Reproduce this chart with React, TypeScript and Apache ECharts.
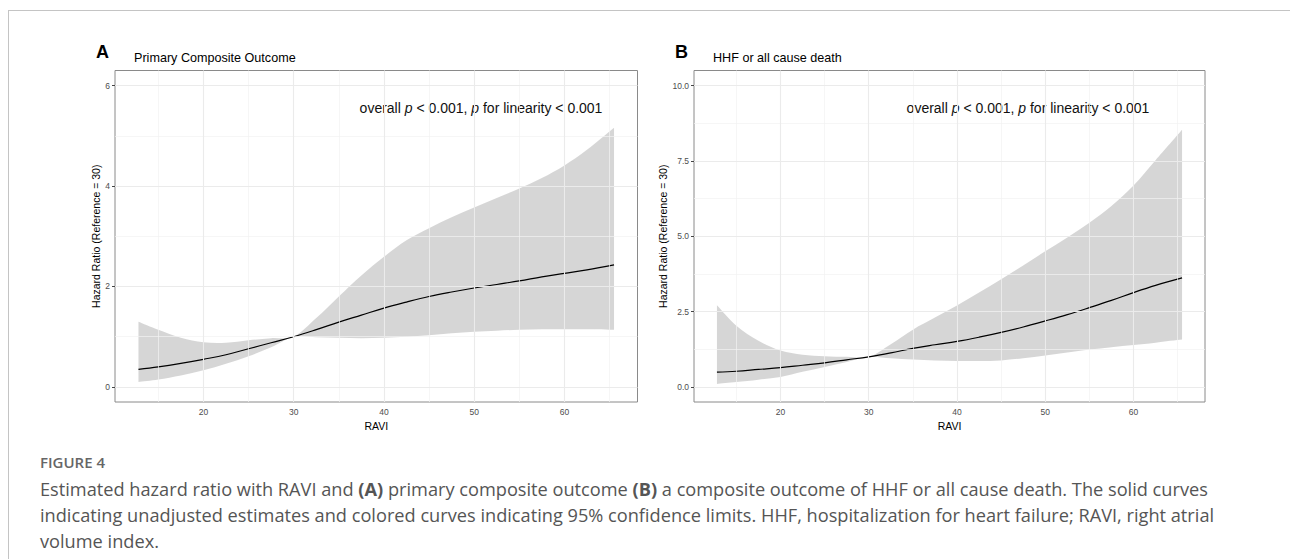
import React, { useEffect, useRef } from "react";
import * as echarts from "echarts";

// RAVI values at which the curves were read
const ravi = [12.8, 15, 17.5, 20, 22.5, 25, 27.5, 30, 32.5, 35, 37.5, 40, 42.5, 45, 47.5, 50, 52.5, 55, 57.5, 60, 62.5, 65.5];

// Panel A: Primary Composite Outcome
const hrA = [0.35, 0.4, 0.47, 0.55, 0.64, 0.76, 0.88, 1.0, 1.14, 1.29, 1.43, 1.57, 1.69, 1.8, 1.89, 1.97, 2.04, 2.11, 2.19, 2.26, 2.33, 2.43];
const lowerA = [0.1, 0.15, 0.23, 0.33, 0.46, 0.61, 0.79, 1.0, 0.99, 0.98, 0.97, 0.98, 1.0, 1.03, 1.07, 1.1, 1.12, 1.14, 1.15, 1.15, 1.15, 1.14];
const upperA = [1.3, 1.14, 0.98, 0.89, 0.88, 0.93, 0.97, 1.0, 1.37, 1.8, 2.22, 2.59, 2.92, 3.16, 3.38, 3.57, 3.76, 3.95, 4.16, 4.41, 4.72, 5.16];

// Panel B: HHF or all cause death
const hrB = [0.49, 0.52, 0.58, 0.64, 0.72, 0.8, 0.9, 1.0, 1.13, 1.28, 1.4, 1.51, 1.65, 1.81, 1.99, 2.19, 2.4, 2.63, 2.87, 3.13, 3.37, 3.62];
const lowerB = [0.1, 0.16, 0.24, 0.33, 0.5, 0.66, 0.83, 1.0, 0.95, 0.91, 0.88, 0.86, 0.86, 0.88, 0.95, 1.04, 1.14, 1.24, 1.32, 1.39, 1.47, 1.57];
const upperB = [2.71, 2.03, 1.53, 1.21, 1.07, 1.02, 1.0, 1.0, 1.42, 1.9, 2.3, 2.7, 3.13, 3.57, 4.03, 4.5, 4.96, 5.45, 6.0, 6.68, 7.52, 8.53];

// Ticks
const xTicks = [20, 30, 40, 50, 60];
const xMinor = [15, 25, 35, 45, 55, 65];
const yTicksA = [0, 2, 4, 6];
const yMinorA = [1, 3, 5];
const yTicksB = [0, 2.5, 5, 7.5, 10];
const yMinorB = [1.25, 3.75, 6.25, 8.75];

const FONT = '"Liberation Sans", Arial, Helvetica, sans-serif';
const CAP_FONT = '"Open Sans", "Noto Sans", sans-serif';

// Catmull-Rom spline through screen points -> SVG path commands
function splinePath(pts: number[][], moveFirst: boolean) {
  let d = moveFirst ? `M${pts[0][0]},${pts[0][1]}` : `L${pts[0][0]},${pts[0][1]}`;
  for (let i = 0; i < pts.length - 1; i++) {
    const p0 = pts[Math.max(0, i - 1)];
    const p1 = pts[i];
    const p2 = pts[i + 1];
    const p3 = pts[Math.min(pts.length - 1, i + 2)];
    const c1x = p1[0] + (p2[0] - p0[0]) / 6;
    const c1y = p1[1] + (p2[1] - p0[1]) / 6;
    const c2x = p2[0] - (p3[0] - p1[0]) / 6;
    const c2y = p2[1] - (p3[1] - p1[1]) / 6;
    d += ` C${c1x},${c1y} ${c2x},${c2y} ${p2[0]},${p2[1]}`;
  }
  return d;
}

function buildOption() {
  const grids = [
    { left: 115, top: 70.5, width: 522.5, height: 331.5 },
    { left: 694, top: 70.5, width: 511, height: 331.5 },
  ];
  const panels = [
    { hr: hrA, lo: lowerA, up: upperA, yMin: -0.3, yMax: 6.3, yTicks: yTicksA, yMinor: yMinorA, fmt: (v: number) => String(v) },
    { hr: hrB, lo: lowerB, up: upperB, yMin: -0.5, yMax: 10.5, yTicks: yTicksB, yMinor: yMinorB, fmt: (v: number) => v.toFixed(1) },
  ];

  const xAxis: any[] = [];
  const yAxis: any[] = [];
  const series: any[] = [];

  panels.forEach((p, i) => {
    xAxis.push({
      gridIndex: i,
      type: "value",
      min: 10.2,
      max: 68.1,
      splitLine: { show: false },
      axisLine: { show: false },
      axisTick: { show: true, customValues: xTicks, length: 3, lineStyle: { color: "#444", width: 1 } },
      axisLabel: { customValues: xTicks, color: "#4d4d4d", fontSize: 8.5, margin: 5, fontFamily: FONT },
      name: "RAVI",
      nameLocation: "middle",
      nameGap: 16,
      nameTextStyle: { color: "#000", fontSize: 10.5, fontFamily: FONT },
    });
    yAxis.push({
      gridIndex: i,
      type: "value",
      min: p.yMin,
      max: p.yMax,
      splitLine: { show: false },
      axisLine: { show: false },
      axisTick: { show: true, customValues: p.yTicks, length: 3, lineStyle: { color: "#444", width: 1 } },
      axisLabel: { customValues: p.yTicks, color: "#4d4d4d", fontSize: 8.5, margin: 5, fontFamily: FONT, formatter: p.fmt },
      name: "Hazard Ratio (Reference = 30)",
      nameLocation: "middle",
      nameGap: i === 0 ? 12 : 22,
      nameTextStyle: { color: "#000", fontSize: 10.5, fontFamily: FONT },
    });

    const major = { color: "#ebebeb", width: 1.1, type: "solid" };
    const minor = { color: "#f2f2f2", width: 0.7, type: "solid" };
    series.push({
      type: "line",
      xAxisIndex: i,
      yAxisIndex: i,
      data: [],
      silent: true,
      z: 1,
      markLine: {
        silent: true,
        symbol: ["none", "none"],
        label: { show: false },
        lineStyle: { type: "solid" },
        emphasis: { disabled: true },
        data: [
          ...xMinor.map((v) => ({ xAxis: v, lineStyle: minor })),
          ...p.yMinor.map((v) => ({ yAxis: v, lineStyle: minor })),
          ...xTicks.map((v) => ({ xAxis: v, lineStyle: major })),
          ...p.yTicks.map((v) => ({ yAxis: v, lineStyle: major })),
        ],
      },
    });
    // 95% confidence band as one filled shape
    series.push({
      type: "custom",
      xAxisIndex: i,
      yAxisIndex: i,
      silent: true,
      z: 2,
      data: ravi.map((x, k) => [x, p.lo[k], p.up[k]]),
      encode: { x: 0, y: [1, 2] },
      renderItem: (params: any, api: any) => {
        if (params.dataIndex !== 0) return null;
        const upPts = ravi.map((x, k) => api.coord([x, p.up[k]]));
        const loPts = ravi.map((x, k) => api.coord([x, p.lo[k]])).reverse();
        const d = splinePath(upPts, true) + " " + splinePath(loPts, false) + " Z";
        return {
          type: "path",
          shape: { pathData: d },
          style: { fill: "rgba(153,153,153,0.4)", stroke: "none" },
        };
      },
    });
    series.push({
      type: "line",
      xAxisIndex: i,
      yAxisIndex: i,
      data: ravi.map((x, k) => [x, p.hr[k]]),
      symbol: "none",
      smooth: 0.4,
      lineStyle: { color: "#000", width: 1.2 },
      silent: true,
      z: 3,
    });
  });

  const annot = "overall {i|p} < 0.001, {i|p} for linearity < 0.001";
  const annotStyle = (x: number) => ({
    type: "text",
    x,
    y: 108,
    silent: true,
    style: {
      text: annot,
      fontSize: 14,
      fontFamily: FONT,
      fill: "#111",
      align: "center",
      verticalAlign: "middle",
      rich: { i: { fontStyle: "italic", fontSize: 14, fontFamily: FONT, fill: "#111" } },
    },
  });

  const capRich = {
    b: { fontWeight: "bold", fontSize: 18.2, fontFamily: CAP_FONT, fill: "#555" },
  };
  const capLine = (text: string, y: number) => ({
    type: "text",
    x: 40,
    y,
    silent: true,
    style: { text, fontSize: 18.2, fontFamily: CAP_FONT, fill: "#555", verticalAlign: "middle", rich: capRich },
  });

  const graphic = [
    { type: "line", silent: true, shape: { x1: 8, y1: 10.5, x2: 1290, y2: 10.5 }, style: { stroke: "#c4c4c4", lineWidth: 1 } },
    { type: "line", silent: true, shape: { x1: 8.5, y1: 10, x2: 8.5, y2: 559 }, style: { stroke: "#c4c4c4", lineWidth: 1 } },
    { type: "text", x: 96, y: 52, silent: true, style: { text: "A", fontSize: 18, fontWeight: "bold", fontFamily: FONT, fill: "#000", verticalAlign: "middle" } },
    { type: "text", x: 134, y: 58, silent: true, style: { text: "Primary Composite Outcome", fontSize: 12.6, fontFamily: FONT, fill: "#000", verticalAlign: "middle" } },
    { type: "text", x: 675, y: 52, silent: true, style: { text: "B", fontSize: 18, fontWeight: "bold", fontFamily: FONT, fill: "#000", verticalAlign: "middle" } },
    { type: "text", x: 713, y: 58, silent: true, style: { text: "HHF or all cause death", fontSize: 12.6, fontFamily: FONT, fill: "#000", verticalAlign: "middle" } },
    annotStyle(481),
    annotStyle(1028),
    { type: "text", x: 40, y: 462, silent: true, style: { text: "FIGURE 4", fontSize: 15, fontWeight: 600, fontFamily: CAP_FONT, fill: "#666", verticalAlign: "middle" } },
    capLine("Estimated hazard ratio with RAVI and {b|(A)} primary composite outcome {b|(B)} a composite outcome of HHF or all cause death. The solid curves", 489),
    capLine("indicating unadjusted estimates and colored curves indicating 95% confidence limits. HHF, hospitalization for heart failure; RAVI, right atrial", 515),
    capLine("volume index.", 541),
  ];

  return {
    animation: false,
    backgroundColor: "#fff",
    grid: grids.map((g) => ({ ...g, show: true, borderColor: "#8a8a8a", borderWidth: 1, backgroundColor: "transparent", containLabel: false })),
    xAxis,
    yAxis,
    series,
    graphic,
  };
}

export default function App() {
  const ref = useRef<HTMLDivElement>(null);
  useEffect(() => {
    if (!ref.current) return;
    const chart = echarts.init(ref.current, null, { renderer: "svg" });
    chart.setOption(buildOption() as any);
    return () => chart.dispose();
  }, []);
  return <div ref={ref} style={{ position: "fixed", left: 0, top: 0, width: 1290, height: 559 }} />;
}
